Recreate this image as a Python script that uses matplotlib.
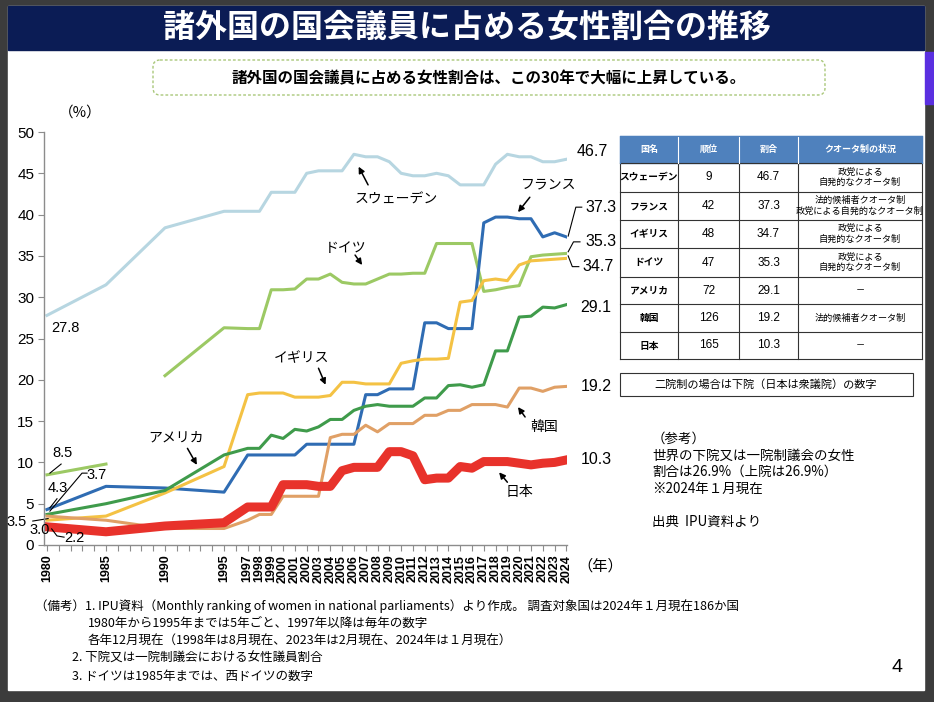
import numpy as np
import matplotlib
matplotlib.use('Agg')
import matplotlib.pyplot as plt
from matplotlib.patches import Rectangle, FancyBboxPatch

plt.rcParams['font.family'] = ['Noto Sans CJK JP', 'DejaVu Sans']
NUM_FONT = ['Liberation Sans', 'Noto Sans CJK JP']

## data (% of women in lower / single house)
years = [1980, 1985, 1990, 1995] + list(range(1997, 2025))
labelled_years = [1980, 1985, 1990, 1995] + list(range(1997, 2025))

sweden = [27.8, 31.5, 38.4, 40.4, 40.4, 40.4, 42.7, 42.7, 42.7, 45.0, 45.3, 45.3, 45.3, 47.3,
          47.0, 47.0, 46.4, 45.0, 44.7, 44.7, 45.0, 44.7, 43.6, 43.6, 43.6, 46.1, 47.3, 47.0,
          47.0, 46.4, 46.4, 46.7]
france = [4.3, 7.1, 6.9, 6.4, 10.9, 10.9, 10.9, 10.9, 10.9, 12.2, 12.2, 12.2, 12.2, 12.2,
          18.2, 18.2, 18.9, 18.9, 18.9, 26.9, 26.9, 26.2, 26.2, 26.2, 39.0, 39.7, 39.7, 39.5,
          39.5, 37.3, 37.8, 37.3]
uk = [3.0, 3.5, 6.3, 9.5, 18.2, 18.4, 18.4, 18.4, 17.9, 17.9, 17.9, 18.1, 19.7, 19.7,
      19.5, 19.5, 19.5, 22.0, 22.3, 22.5, 22.5, 22.6, 29.4, 29.6, 32.0, 32.2, 32.0, 33.9,
      34.4, 34.5, 34.6, 34.7]
# west germany until 1985, unified germany from 1990
west_germany_years = [1980, 1985]
west_germany = [8.5, 9.8]
germany_years = years[2:]
germany = [20.5, 26.3, 26.2, 26.2, 30.9, 30.9, 31.0, 32.2, 32.2, 32.8, 31.8, 31.6, 31.6,
           32.2, 32.8, 32.8, 32.9, 32.9, 36.5, 36.5, 36.5, 36.5, 30.7, 30.9, 31.2, 31.4,
           34.9, 35.1, 35.2, 35.3]
usa = [3.7, 5.0, 6.6, 10.9, 11.7, 11.7, 13.3, 12.9, 14.0, 13.8, 14.3, 15.2, 15.2, 16.3,
       16.8, 17.0, 16.8, 16.8, 16.8, 17.8, 17.8, 19.3, 19.4, 19.1, 19.4, 23.5, 23.5, 27.6,
       27.7, 28.8, 28.7, 29.1]
korea = [3.5, 3.0, 2.0, 2.0, 3.0, 3.7, 3.7, 5.9, 5.9, 5.9, 5.9, 13.0, 13.4, 13.4, 14.5,
         13.7, 14.7, 14.7, 14.7, 15.7, 15.7, 16.3, 16.3, 17.0, 17.0, 17.0, 16.7, 19.0, 19.0,
         18.6, 19.1, 19.2]
japan = [2.2, 1.6, 2.3, 2.7, 4.6, 4.6, 4.6, 7.3, 7.3, 7.3, 7.1, 7.1, 9.0, 9.4, 9.4, 9.4,
         11.3, 11.3, 10.8, 7.9, 8.1, 8.1, 9.5, 9.3, 10.1, 10.1, 10.1, 9.9, 9.7, 9.9, 10.0, 10.3]

## table data
tbl_header = ['国名', '順位', '割合', 'クオータ制の状況']
tbl_country = ['スウェーデン', 'フランス', 'イギリス', 'ドイツ', 'アメリカ', '韓国', '日本']
tbl_rank = [9, 42, 48, 47, 72, 126, 165]
tbl_rate = [46.7, 37.3, 34.7, 35.3, 29.1, 19.2, 10.3]
tbl_quota = ['政党による\n自発的なクオータ制',
             '法的候補者クオータ制\n政党による自発的なクオータ制',
             '政党による\n自発的なクオータ制',
             '政党による\n自発的なクオータ制',
             '－', '法的候補者クオータ制', '－']

title = '諸外国の国会議員に占める女性割合の推移'
subtitle = '諸外国の国会議員に占める女性割合は、この30年で大幅に上昇している。'
notes = ['（備考）1. IPU資料（Monthly ranking of women in national parliaments）より作成。 調査対象国は2024年１月現在186か国',
         '1980年から1995年までは5年ごと、1997年以降は毎年の数字',
         '各年12月現在（1998年は8月現在、2023年は2月現在、2024年は１月現在）',
         '2. 下院又は一院制議会における女性議員割合',
         '3. ドイツは1985年までは、西ドイツの数字']
ref_lines = ['（参考）', '世界の下院又は一院制議会の女性', '割合は26.9%（上院は26.9%）',
             '※2024年１月現在', '', '出典  IPU資料より']

## figure + background slide
fig = plt.figure(figsize=(9.34, 7.02), dpi=100)
fig.patch.set_facecolor('#3c3c3c')
bg = fig.add_axes([0, 0, 1, 1], zorder=0)
bg.set_xlim(0, 934)
bg.set_ylim(702, 0)
bg.axis('off')
bg.add_patch(Rectangle((8, 6), 916, 684, color='white'))
bg.add_patch(Rectangle((8, 6), 916, 44, color='#0b1c55'))
bg.add_patch(Rectangle((925, 52), 9, 52, color='#5a2fe0'))
bg.text(467, 28, title, color='white', fontsize=23, fontweight='bold', ha='center', va='center')
bg.add_patch(FancyBboxPatch((153, 60), 672, 35, boxstyle='round,pad=0,rounding_size=7',
                            fill=False, ec='#a9c77a', ls=(0, (2, 1.5)), lw=1))
bg.text(489, 78, subtitle, fontsize=11.2, fontweight='bold', ha='center', va='center')
bg.text(80, 113, '（%）', fontsize=10.5, ha='center', va='center')
bg.text(600, 566, '（年）', fontsize=11, ha='center', va='center')

# table
col_x = [620, 678, 739, 798, 922]
row_y = [136, 163, 192, 220, 248, 277, 304, 332, 359]
bg.add_patch(Rectangle((col_x[0], row_y[0]), col_x[-1] - col_x[0], row_y[1] - row_y[0], color='#4f81bd'))
for j, h in enumerate(tbl_header):
    bg.text((col_x[j] + col_x[j + 1]) / 2, (row_y[0] + row_y[1]) / 2, h, color='white',
            fontsize=6.5, fontweight='bold', ha='center', va='center')
for i in range(len(tbl_country)):
    yc = (row_y[i + 1] + row_y[i + 2]) / 2
    bg.text((col_x[0] + col_x[1]) / 2, yc, tbl_country[i], fontsize=7, fontweight='bold', ha='center', va='center')
    bg.text((col_x[1] + col_x[2]) / 2, yc, str(tbl_rank[i]), fontsize=8.5, ha='center', va='center', family=NUM_FONT)
    bg.text((col_x[2] + col_x[3]) / 2, yc, f'{tbl_rate[i]:.1f}', fontsize=8.5, ha='center', va='center', family=NUM_FONT)
    bg.text((col_x[3] + col_x[4]) / 2, yc, tbl_quota[i], fontsize=6.6, ha='center', va='center', linespacing=1.2)
for y in row_y[1:]:
    bg.plot([col_x[0], col_x[-1]], [y, y], color='#333333', lw=0.8)
for x in col_x:
    bg.plot([x, x], [row_y[1], row_y[-1]], color='#333333', lw=0.8)
    bg.plot([x, x], [row_y[0], row_y[1]], color='white' if x not in (col_x[0], col_x[-1]) else '#4f81bd', lw=0.8)
bg.plot([col_x[0], col_x[-1]], [row_y[0], row_y[0]], color='#4f81bd', lw=0.8)

bg.add_patch(Rectangle((620, 373), 293, 23, fill=False, ec='#333333', lw=0.8))
bg.text(766, 384.5, '二院制の場合は下院（日本は衆議院）の数字', fontsize=8, ha='center', va='center')

for k, line in enumerate(ref_lines):
    bg.text(652, 439 + 16.6 * k, line, fontsize=9.7, ha='left', va='center')

note_x = [35, 88, 88, 72, 72]
for k, line in enumerate(notes):
    bg.text(note_x[k], 606 + 17.5 * k, line, fontsize=9, ha='left', va='center')
bg.text(897, 667, '4', fontsize=14, ha='center', va='center', family=NUM_FONT)

## main chart
ax = fig.add_axes([44 / 934, 1 - 545 / 702, (567 - 44) / 934, (545 - 132) / 702], zorder=1)
ax.patch.set_alpha(0)
ax.set_xlim(1979.75, 2024.05)
ax.set_ylim(0, 50)

ax.plot(years, sweden, color='#b7d6e1', lw=2.2)
ax.plot(west_germany_years, west_germany, color='#9cc964', lw=2.2)
ax.plot(germany_years, germany, color='#9cc964', lw=2.2)
ax.plot(years, france, color='#2f6cb3', lw=2.2)
ax.plot(years, uk, color='#f4c244', lw=2.2)
ax.plot(years, usa, color='#3f9b4b', lw=2.2)
ax.plot(years, korea, color='#e0a066', lw=2.2)
ax.plot(years, japan, color='#e8322b', lw=6.5)

for s in ['top', 'right']:
    ax.spines[s].set_visible(False)
for s in ['left', 'bottom']:
    ax.spines[s].set_color('#8c8c8c')
    ax.spines[s].set_linewidth(1)
ax.set_yticks(range(0, 51, 5))
ax.set_xticks(range(1980, 2025))
ax.set_xticklabels([str(y) if y in labelled_years else '' for y in range(1980, 2025)],
                   rotation=90, fontsize=9, fontweight='bold', family=NUM_FONT)
for lab in ax.get_yticklabels():
    lab.set_fontfamily(NUM_FONT)
    lab.set_fontsize(11)
ax.tick_params(axis='both', direction='out', length=4, color='#8c8c8c', pad=3)

# end values
end_kw = dict(fontsize=11.5, ha='left', va='center', family=NUM_FONT, clip_on=False)
ax.text(2024.9, sweden[-1] + 0.9, f'{sweden[-1]:.1f}', **end_kw)
ax.text(2025.6, france[-1] + 3.6, f'{france[-1]:.1f}', **end_kw)
ax.plot([2024.15, 2024.8, 2025.3], [france[-1] + 0.1, france[-1] + 3.6, france[-1] + 3.6], color='black', lw=0.8, clip_on=False)
ax.text(2025.6, germany[-1] + 1.5, f'{germany[-1]:.1f}', **end_kw)
ax.plot([2024.15, 2024.6, 2025.15], [germany[-1] + 0.2, germany[-1] + 1.4, germany[-1] + 1.4], color='black', lw=0.8, clip_on=False)
ax.text(2025.4, uk[-1] - 1.0, f'{uk[-1]:.1f}', **end_kw)
ax.plot([2024.15, 2024.5, 2025.05], [uk[-1] + 0.3, uk[-1] - 1.0, uk[-1] - 1.0], color='black', lw=0.8, clip_on=False)
ax.text(2025.2, usa[-1] - 0.3, f'{usa[-1]:.1f}', **end_kw)
ax.text(2025.2, korea[-1], f'{korea[-1]:.1f}', **end_kw)
ax.text(2025.2, japan[-1], f'{japan[-1]:.1f}', **end_kw)

# start values
st_kw = dict(fontsize=10.5, ha='center', va='center', family=NUM_FONT, clip_on=False)
ax.text(1981.6, sweden[0] - 1.5, f'{sweden[0]:.1f}', **st_kw)
ax.text(1981.3, west_germany[0] + 2.6, f'{west_germany[0]:.1f}', **st_kw)
ax.plot([1980.25, 1981.2], [west_germany[0] + 0.2, west_germany[0] + 1.3], color='black', lw=0.8)
ax.text(1980.9, france[0] + 2.6, f'{france[0]:.1f}', **st_kw)
ax.plot([1980.25, 1980.85], [france[0] + 0.2, france[0] + 1.3], color='black', lw=0.8)
ax.text(1984.2, usa[0] + 4.8, f'{usa[0]:.1f}', **st_kw)
ax.plot([1980.25, 1982.97, 1983.4], [usa[0] + 0.4, usa[0] + 5.0, usa[0] + 5.0], color='black', lw=0.8)
ax.text(1977.45, korea[0] - 0.7, f'{korea[0]:.1f}', **st_kw)
ax.plot([1978.8, 1980.1], [korea[0] - 0.6, korea[0] - 0.3], color='black', lw=0.8, clip_on=False)
ax.text(1979.4, uk[0] - 1.2, f'{uk[0]:.1f}', **st_kw)
ax.text(1982.3, japan[0] - 1.35, f'{japan[0]:.1f}', **st_kw)
ax.plot([1980.4, 1980.85, 1981.45], [japan[0] - 0.25, japan[0] - 1.1, japan[0] - 1.25], color='black', lw=0.8)

# country names with arrows
names = [('スウェーデン', (2009.6, 41.8), (2007.2, 43.6), (2006.4, 45.8)),
         ('フランス', (2022.5, 43.6), (2020.9, 42.1), (2019.9, 40.3)),
         ('ドイツ', (2005.3, 36.0), (2006.1, 35.1), (2006.7, 33.9)),
         ('イギリス', (2001.6, 22.6), (2003.0, 21.4), (2003.6, 19.4)),
         ('アメリカ', (1990.9, 13.0), (1991.9, 11.7), (1992.7, 9.7)),
         ('韓国', (2022.1, 14.3), (2020.5, 15.5), (2019.9, 16.7)),
         ('日本', (2020.0, 6.4), (2019.0, 7.6), (2018.3, 8.8))]
for name, txt, tail, head in names:
    ax.text(txt[0], txt[1], name, fontsize=10, ha='center', va='center')
    ax.annotate('', xy=head, xytext=tail,
                arrowprops=dict(arrowstyle='-|>', color='black', lw=1.1, mutation_scale=9,
                                shrinkA=0, shrinkB=0))

fig.savefig('out.png', dpi=100, facecolor=fig.get_facecolor())
